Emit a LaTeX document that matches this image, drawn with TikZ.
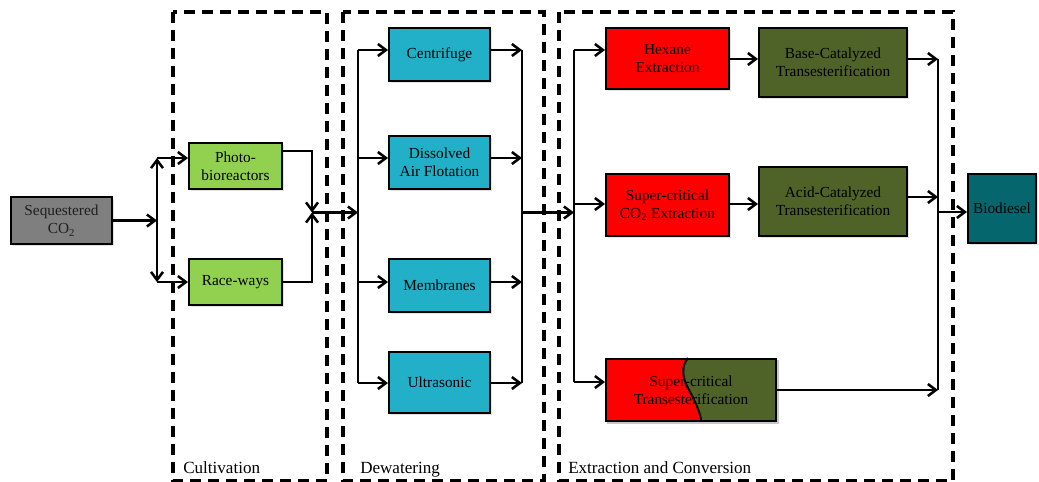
\documentclass[tikz,border=0pt]{standalone}
\usepackage{fontspec}
\setmainfont{Liberation Serif}
\usetikzlibrary{arrows.meta,calc,shadows}
\definecolor{cultgreen}{HTML}{92D050}
\definecolor{dewblue}{HTML}{21B0C8}
\definecolor{extred}{HTML}{FF0000}
\definecolor{convolive}{HTML}{4F6228}
\definecolor{fuelteal}{HTML}{05666E}
\definecolor{feedgray}{HTML}{7F7F7F}
\pgfdeclarelayer{background}
\pgfsetlayers{background,main}
\begin{document}
\begin{tikzpicture}[x=0.75pt,y=-0.75pt,
  procshape/.style 2 args={draw=black, line width=1.5pt, inner sep=0pt, align=center,
    minimum width=#1*0.75pt, minimum height=#2*0.75pt,
    font=\fontsize{11.5}{13.5}\selectfont},
  proc/.style 2 args={procshape={#1}{#2},
    drop shadow={shadow xshift=1.2pt, shadow yshift=-1.2pt, opacity=0.22}},
  flow/.style={line width=1.9pt, -{Straight Barb[length=6pt,width=9pt]}},
  link/.style={line width=1.9pt},
  stage/.style={draw, line width=2.4pt, dash pattern=on 8.25pt off 5.25pt},
  stagelabel/.style={anchor=base west, inner sep=0pt, font=\fontsize{12.8}{15}\selectfont}]
\useasboundingbox (0,0) rectangle (1039,482);

% stage frames
\draw[stage] (173,12) rectangle (327,481);
\draw[stage] (343,12) rectangle (544,481);
\draw[stage] (559,12) rectangle (953,481);
\node[stagelabel] (lcult) at (183,473) {Cultivation};
\node[stagelabel] (ldew) at (360,473) {Dewatering};
\node[stagelabel] (lext) at (568,473) {Extraction and Conversion};

% process blocks
\node[proc={101}{47}, fill=feedgray, text=black!88] (co2) at (61.5,220.5) {Sequestered\\CO\textsubscript{2}};
\node[proc={93}{46}, fill=cultgreen] (photo) at (235.5,166) {Photo-\\bioreactors};
\node[proc={93}{46}, fill=cultgreen] (race) at (235.5,282) {Race-ways};
\node[proc={101}{53}, fill=dewblue] (cent) at (439.5,54.5) {Centrifuge};
\node[proc={101}{53}, fill=dewblue] (daf) at (439.5,162.5) {Dissolved\\Air Flotation};
\node[proc={101}{53}, fill=dewblue] (memb) at (439.5,285.5) {Membranes};
\node[proc={101}{61}, fill=dewblue] (ultra) at (439.5,382.5) {Ultrasonic};
\node[proc={123}{61}, fill=extred] (hex) at (667.5,58.5) {Hexane\\Extraction};
\node[proc={123}{62}, fill=extred] (sco2) at (667.5,205) {Super-critical\\CO\textsubscript{2} Extraction};
\node[procshape={170}{62}] (sct) at (691,390) {Super-critical\\Transesterification};
\node[proc={148}{69}, fill=convolive] (base) at (833,62.5) {Base-Catalyzed\\Transesterification};
\node[proc={148}{69}, fill=convolive] (acid) at (833,201.5) {Acid-Catalyzed\\Transesterification};
\node[proc={68}{69}, fill=fuelteal] (bio) at (1002,208.5) {Biodiesel};

% two-tone fill of the combined block, kept under its outline and text
\begin{pgfonlayer}{background}
  \fill[black, opacity=0.22] ([xshift=1.2pt,yshift=-1.2pt]sct.north west) rectangle ([xshift=1.2pt,yshift=-1.2pt]sct.south east);
  \fill[extred] (sct.north west) rectangle (sct.south east);
  \begin{scope}[shift={(sct.north west)}]
    \fill[convolive] (83,0) .. controls (76,8) and (77,20) .. (84,32)
      .. controls (90,43) and (95,54) .. (96,62) -- (170,62) -- (170,0) -- cycle;
    \draw[line width=1.5pt] (83,0) .. controls (76,8) and (77,20) .. (84,32)
      .. controls (90,43) and (95,54) .. (96,62);
  \end{scope}
\end{pgfonlayer}

% cultivation split and merge
\coordinate (s1) at (157,220.5);
\coordinate (s1top) at (157,158);
\coordinate (s1bot) at (157,282);
\coordinate (m1top) at (312,151);
\coordinate (m1) at (312,212.5);
\coordinate (m1bot) at (312,282);
\draw[flow] (co2.east) -- (s1);
\draw[link, {Straight Barb[length=6pt,width=9pt]}-{Straight Barb[length=6pt,width=9pt]}] (s1top) -- (s1bot);
\draw[flow] (s1top) -- (photo.west |- s1top);
\draw[flow] (s1bot) -- (race.west |- s1bot);
\draw[flow] (photo.east |- m1top) -- (m1top) -- (m1);
\draw[flow] (race.east |- m1bot) -- (m1bot) -- (m1);

% dewatering rails
\coordinate (din0) at (358,212.5);
\foreach \n/\yy in {1/50,2/158,3/282,4/383}{
  \coordinate (din\n) at (358,\yy);
  \coordinate (dout\n) at (522,\yy);
}
\coordinate (dout0) at (522,212.5);
\draw[flow] (m1) -- (din0);
\draw[link] (din1) -- (din4);
\draw[link] (dout1) -- (dout4);
\draw[flow] (din1) -- (cent.west |- din1);
\draw[flow] (din2) -- (daf.west |- din2);
\draw[flow] (din3) -- (memb.west |- din3);
\draw[flow] (din4) -- (ultra.west |- din4);
\draw[flow] (cent.east |- dout1) -- (dout1);
\draw[flow] (daf.east |- dout2) -- (dout2);
\draw[flow] (memb.east |- dout3) -- (dout3);
\draw[flow] (ultra.east |- dout4) -- (dout4);

% extraction and conversion rails
\coordinate (xin) at (574,212.5);
\coordinate (ein1) at (574,50);
\coordinate (ein2) at (574,204);
\coordinate (ein3) at (574,382);
\coordinate (hb) at (0,59);
\coordinate (cout1) at (938,59);
\coordinate (cout2) at (938,197);
\coordinate (cout3) at (938,390);
\coordinate (cmid) at (938,212);
\draw[flow] (dout0) -- (xin);
\draw[link] (ein1) -- (ein3);
\draw[flow] (ein1) -- (hex.west |- ein1);
\draw[flow] (ein2) -- (sco2.west |- ein2);
\draw[flow] (ein3) -- (sct.west |- ein3);
\draw[flow] (hex.east |- hb) -- (base.west |- hb);
\draw[flow] (sco2.east |- ein2) -- (acid.west |- ein2);
\draw[flow] (base.east |- cout1) -- (cout1);
\draw[flow] (acid.east |- cout2) -- (cout2);
\draw[flow] (sct.east) -- (cout3);
\draw[link] (cout1) -- (cout3);
\draw[flow] (cmid) -- (bio.west |- cmid);
\end{tikzpicture}
\end{document}
